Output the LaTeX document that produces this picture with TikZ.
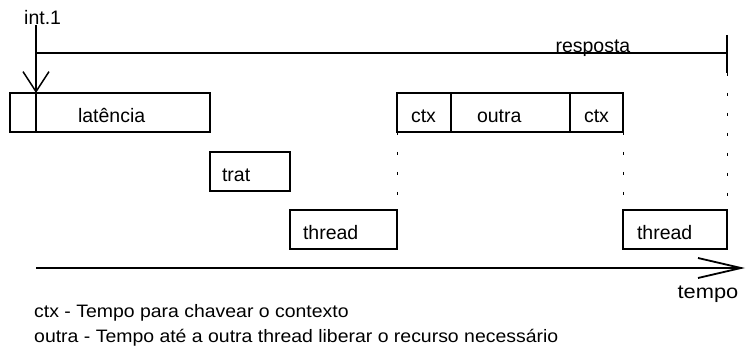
\documentclass[tikz,border=0pt]{standalone}
\usepackage{fontspec}
\setmainfont{Liberation Sans}
\newfontfamily\legfonte[FakeStretch=1.08]{Liberation Sans}
\newfontfamily\larga[FakeStretch=1.12]{Liberation Sans}
\usetikzlibrary{arrows.meta,positioning}

\begin{document}
\begin{tikzpicture}[x=1pt,y=-1pt,
        box/.style 2 args={draw,line width=1.5pt,minimum height=39pt,inner ysep=0pt,
            text width=#1,inner xsep=#2,align=left,text height=20pt,text depth=0pt,
            anchor=north west,outer sep=0pt,font=\fontsize{19.5}{22}\selectfont},
        rotulo/.style={inner sep=0pt,font=\fontsize{19.5}{22}\selectfont},
        legenda/.style={inner sep=0pt,anchor=base west,font=\legfonte\fontsize{18}{20}\selectfont},
        pontilhado/.style={line width=0.8pt,dash pattern=on 3pt off 17pt}]
      \useasboundingbox (0,0) rectangle (748,350);

      \node[box={0pt}{13pt}] (espera) at (10,93) {};
      \node[box={90pt}{42pt},right=0pt of espera] (lat) {latência};
      \node[box={56pt}{12pt}] (trat) at (210,152) {trat};
      \node[box={81pt}{13pt}] (thrA) at (290,210) {thread};
      \node[box={26pt}{14pt}] (ctxA) at (397,93) {ctx};
      \node[box={67pt}{26pt},right=0pt of ctxA] (outra) {outra};
      \node[box={25pt}{14pt},right=0pt of outra] (ctxB) {ctx};
      \node[box={76pt}{14pt}] (thrB) at (623,210) {thread};

      \node[rotulo,anchor=base west] (int) at (24,25) {int.1};
      \draw[line width=1.5pt,-{Straight Barb[length=20pt,width=26pt]}]
        (int.base -| espera.north east) -- (espera.north east);

      \coordinate (r0) at (espera.east |- 0,53);
      \coordinate (r1) at (thrB.east |- 0,53);
      \draw[line width=1.2pt] (r0) -- (r1)
        node[rotulo,anchor=base,pos=0.806] (resp) {resposta};
      \draw[line width=1.5pt] ([yshift=18pt]r1) -- ([yshift=-20pt]r1);

      \draw[pontilhado] ([yshift=-20pt]r1) -- (thrB.north east);
      \draw[pontilhado] (ctxA.south west) -- (thrA.north east);
      \draw[pontilhado] (ctxB.south east) -- (thrB.north west);

      \coordinate (t0) at (espera.east |- 0,268);
      \coordinate (t1) at (745,268);
      \draw[line width=1.8pt,-{Straight Barb[length=43pt,width=20pt]}] (t0) -- (t1);
      \node[rotulo,font=\larga\fontsize{19.5}{22}\selectfont] (tempo) at (708,294) {tempo};

      \node[legenda] (leg1) at (34,317) {ctx - Tempo para chavear o contexto};
      \node[legenda] (leg2) at (34,342) {outra - Tempo até a outra thread liberar o recurso necessário};

    \end{tikzpicture}
\end{document}
